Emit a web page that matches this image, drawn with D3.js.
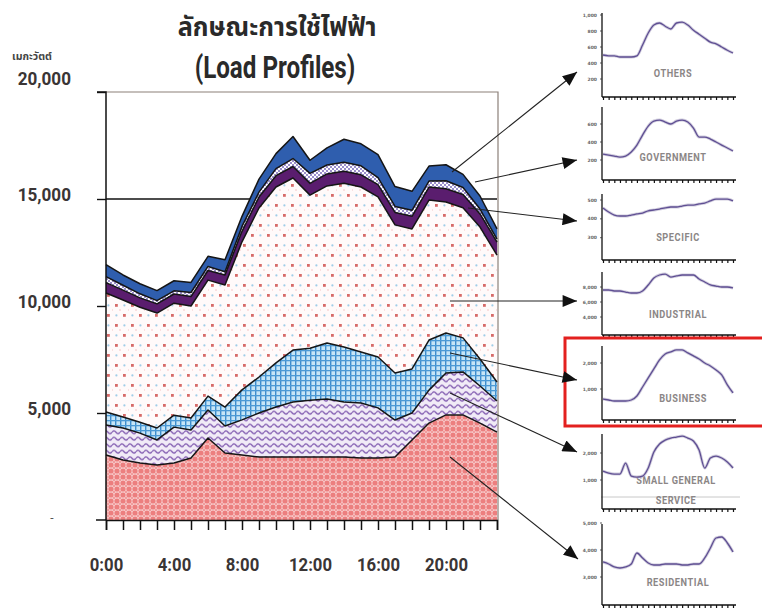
<!DOCTYPE html>
<html>
<head>
<meta charset="utf-8">
<script src="https://cdn.jsdelivr.net/npm/d3@7"></script>
<style>
  body { margin: 0; background: #fff; }
  svg { display: block; }
  .cond { font-family: 'Liberation Sans Narrow', 'Arial Narrow', 'Roboto', sans-serif; }
</style>
</head>
<body>
<svg id="chart" width="762" height="608"></svg>
<script>
// ---- data: hourly load (MW) by customer class, stacked bottom to top ----
const hours = d3.range(24);
const hourLabels = ["0:00", "4:00", "8:00", "12:00", "16:00", "20:00"];
const yTickValues = [0, 5000, 10000, 15000, 20000];

const residential  = [3040, 2800, 2660, 2570, 2660, 2900, 3830, 3130, 3040, 2940, 2940, 2940, 2940, 2940, 2940, 2900, 2900, 2940, 3740, 4530, 4910, 4910, 4530, 4110];
const smallGeneral = [1400, 1500, 1400, 1170, 1680, 1310, 1310, 1260, 1640, 2060, 2340, 2570, 2660, 2710, 2570, 2570, 2340, 1730, 1260, 1540, 1960, 2010, 1730, 1450];
const business     = [610, 510, 510, 560, 560, 560, 650, 890, 1400, 1680, 2060, 2430, 2430, 2620, 2570, 2380, 2380, 2200, 2060, 2340, 1870, 1590, 1260, 890];
const industrial   = [5560, 5470, 5370, 5370, 5230, 5230, 5420, 5700, 6920, 7900, 8220, 8040, 7150, 7340, 7660, 7710, 7480, 6920, 6540, 6540, 6120, 6080, 6170, 5930];
const specific     = [480, 460, 440, 430, 430, 440, 450, 470, 490, 510, 530, 540, 550, 560, 560, 570, 570, 580, 590, 610, 620, 620, 610, 600];
const government   = [280, 230, 190, 150, 150, 190, 190, 150, 230, 230, 330, 370, 470, 420, 420, 420, 330, 280, 280, 280, 370, 330, 230, 150];
const others       = [560, 480, 470, 470, 470, 470, 470, 560, 470, 610, 700, 1030, 610, 800, 1070, 1030, 1070, 930, 890, 700, 750, 610, 610, 470];

// ---- small per-class profiles shown on the right ----
const othersProfile      = [500, 490, 490, 475, 475, 475, 490, 625, 775, 875, 900, 860, 825, 900, 910, 875, 810, 760, 710, 660, 640, 600, 560, 525];
const governmentProfile  = [266, 255, 244, 233, 244, 289, 366, 477, 577, 633, 644, 622, 600, 633, 644, 622, 555, 455, 455, 433, 400, 366, 333, 300];
const specificProfile    = [458, 436, 420, 415, 415, 420, 426, 431, 442, 447, 452, 458, 463, 463, 468, 473, 473, 479, 484, 495, 505, 505, 505, 495];
const industrialProfile  = [7600, 7600, 7470, 7470, 7330, 7200, 7200, 7470, 8270, 9200, 9600, 9730, 9330, 9470, 9600, 9600, 9600, 9070, 8670, 8270, 8130, 8000, 8000, 7870];
const businessProfile    = [616, 577, 539, 539, 539, 577, 731, 1078, 1425, 1771, 2118, 2349, 2426, 2503, 2503, 2387, 2272, 2156, 2002, 1886, 1733, 1540, 1155, 847];
const smallGenProfile    = [1332, 1258, 1221, 1221, 1628, 1147, 1110, 1147, 1443, 2035, 2331, 2479, 2553, 2590, 2627, 2553, 2442, 2109, 1443, 1813, 1887, 1813, 1665, 1443];
const residentialProfile = [3556, 3482, 3371, 3334, 3371, 3482, 3889, 3704, 3519, 3445, 3445, 3482, 3482, 3482, 3445, 3445, 3482, 3482, 3704, 4074, 4444, 4481, 4259, 3926];

const seriesKeys = ["residential", "smallGeneral", "business", "industrial", "specific", "government", "others"];
const seriesData = { residential, smallGeneral, business, industrial, specific, government, others };
const table = hours.map(h => {
  const row = { hour: h };
  seriesKeys.forEach(k => row[k] = seriesData[k][h]);
  return row;
});

const svg = d3.select("#chart");
const defs = svg.append("defs");

// squeeze text horizontally to imitate a condensed face
function condense(sel, k) {
  sel.each(function () {
    const w = this.getComputedTextLength();
    d3.select(this).attr("textLength", w * k).attr("lengthAdjust", "spacingAndGlyphs");
  });
}

// ---- fill patterns ----
function pattern(id, w, h, bg) {
  const p = defs.append("pattern").attr("id", id).attr("patternUnits", "userSpaceOnUse")
    .attr("width", w).attr("height", h);
  p.append("rect").attr("width", w).attr("height", h).attr("fill", bg);
  return p;
}
// residential: pink scales
{
  const p = pattern("pResidential", 6, 6, "#fad6d6");
  p.append("circle").attr("cx", 3).attr("cy", 3).attr("r", 2.6).attr("fill", "#ec7f7f");
  [[0, 0], [6, 0], [0, 6], [6, 6]].forEach(c =>
    p.append("circle").attr("cx", c[0]).attr("cy", c[1]).attr("r", 1.3).attr("fill", "#f09c9c"));
}
// small general service: purple waves
{
  const p = pattern("pSmallGeneral", 8, 6.5, "#f1ebf7");
  p.append("path").attr("d", "M0,3.3 Q2,0.6 4,3.3 T8,3.3")
    .attr("fill", "none").attr("stroke", "#8560b3").attr("stroke-width", 1.4);
}
// business: blue plaid
{
  const p = pattern("pBusiness", 5, 5, "#c6e5f7");
  p.append("rect").attr("x", 0).attr("y", 0).attr("width", 1.4).attr("height", 5).attr("fill", "#3d8ccc");
  p.append("rect").attr("x", 0).attr("y", 0).attr("width", 5).attr("height", 1.3).attr("fill", "#4b9ad6");
}
// industrial: sparse red and blue dots
{
  const p = pattern("pIndustrial", 16, 20, "#fffafa");
  p.append("rect").attr("x", 3).attr("y", 4).attr("width", 2.8).attr("height", 2.8).attr("fill", "#d66a68");
  p.append("rect").attr("x", 11).attr("y", 14).attr("width", 2.8).attr("height", 2.8).attr("fill", "#d66a68");
  p.append("circle").attr("cx", 12.4).attr("cy", 5.4).attr("r", 1.1).attr("fill", "#9fcde8");
  p.append("circle").attr("cx", 4.4).attr("cy", 15.4).attr("r", 1.1).attr("fill", "#9fcde8");
  p.append("circle").attr("cx", 8).attr("cy", 10).attr("r", 0.7).attr("fill", "#efb3b3");
  p.append("circle").attr("cx", 0).attr("cy", 10).attr("r", 0.7).attr("fill", "#efb3b3");
}
// government: fine lavender checker
{
  const p = pattern("pGovernment", 4, 4, "#ffffff");
  p.append("rect").attr("x", 0).attr("y", 0).attr("width", 2).attr("height", 2).attr("fill", "#9a8ecb");
  p.append("rect").attr("x", 2).attr("y", 2).attr("width", 2).attr("height", 2).attr("fill", "#9a8ecb");
}
const fills = {
  residential: "url(#pResidential)",
  smallGeneral: "url(#pSmallGeneral)",
  business: "url(#pBusiness)",
  industrial: "url(#pIndustrial)",
  specific: "#5a1d6e",
  government: "url(#pGovernment)",
  others: "#2f5eae"
};

// arrowhead marker for the pointer lines
defs.append("marker").attr("id", "arrow").attr("markerUnits", "userSpaceOnUse")
  .attr("viewBox", "0 0 12 10").attr("refX", 12).attr("refY", 5)
  .attr("markerWidth", 15).attr("markerHeight", 12).attr("orient", "auto")
  .append("path").attr("d", "M0,0 L12,5 L0,10 Z").attr("fill", "#111");

// ---- main chart ----
const x = d3.scaleLinear().domain([0, 23]).range([106, 497]);
const y = d3.scaleLinear().domain([0, 20000]).range([520, 92]);

// frame
svg.append("path")
  .attr("d", `M${x(0)},${y(20000)} H${x(23) + 1} V${y(0)}`)
  .attr("fill", "none").attr("stroke", "#8c8079").attr("stroke-width", 1.2);

// 15,000 reference line behind the areas
svg.append("line")
  .attr("x1", x(0)).attr("x2", x(23)).attr("y1", y(15000)).attr("y2", y(15000))
  .attr("stroke", "#111").attr("stroke-width", 1.4);

const stack = d3.stack().keys(seriesKeys);
const layers = stack(table);

const area = d3.area().x(d => x(d.data.hour)).y0(d => y(d[0])).y1(d => y(d[1]));
const topLine = d3.line().x(d => x(d.data.hour)).y(d => y(d[1]));

svg.append("g").selectAll("path").data(layers).join("path")
  .attr("d", area).attr("fill", d => fills[d.key]);
svg.append("g").selectAll("path").data(layers).join("path")
  .attr("d", topLine).attr("fill", "none").attr("stroke", "#151515")
  .attr("stroke-width", 1.5).attr("stroke-linejoin", "round");

// axes
const yAxis = d3.axisLeft(y).tickValues(yTickValues.filter(v => v > 0))
  .tickSize(9).tickPadding(26).tickFormat(d3.format(","));
const gy = svg.append("g").attr("transform", `translate(${x(0)},0)`).call(yAxis);
gy.select(".domain").attr("d", `M-9,${y(20000)}H0V${y(0)}`).attr("stroke", "#111").attr("stroke-width", 1.5);
gy.selectAll(".tick line").attr("stroke", "#111").attr("stroke-width", 1.4);
gy.selectAll(".tick text").attr("class", "cond")
  .attr("dy", d => d === 20000 ? "-8px" : "1px")
  .attr("font-size", 19).attr("font-weight", "bold").attr("fill", "#3a3535")
  .call(condense, 0.9);
svg.append("text").attr("class", "cond").attr("x", 52).attr("y", y(0) + 2)
  .attr("text-anchor", "middle").attr("font-size", 12).attr("fill", "#555").text("-");
svg.append("line").attr("x1", 96).attr("x2", x(0)).attr("y1", y(0)).attr("y2", y(0))
  .attr("stroke", "#111").attr("stroke-width", 1.5);

const xAxis = d3.axisBottom(x).tickValues(hours).tickSize(10).tickPadding(28)
  .tickFormat(d => d % 4 === 0 ? hourLabels[d / 4] : "");
const gx = svg.append("g").attr("transform", `translate(0,${y(0)})`).call(xAxis);
gx.select(".domain").attr("stroke", "#111").attr("stroke-width", 1.5);
gx.selectAll(".tick line").attr("stroke", "#111").attr("stroke-width", 1.5);
gx.selectAll(".tick text").attr("class", "cond")
  .attr("font-size", 19).attr("font-weight", "bold").attr("fill", "#3a3535")
  .call(condense, 0.88);

// titles
svg.append("text").attr("x", 277).attr("y", 36).attr("text-anchor", "middle")
  .attr("font-family", "'Noto Sans Thai','Noto Sans','DejaVu Sans',sans-serif")
  .attr("font-size", 26).attr("font-weight", "bold").attr("fill", "#2a2a2a")
  .text("ลักษณะการใช้ไฟฟ้า")
  .call(condense, 0.97);
svg.append("text").attr("class", "cond").attr("x", 275).attr("y", 78).attr("text-anchor", "middle")
  .attr("font-size", 31).attr("font-weight", "bold").attr("fill", "#2a2a2a")
  .text("(Load Profiles)")
  .call(condense, 0.78);
svg.append("text").attr("x", 32).attr("y", 60).attr("text-anchor", "middle")
  .attr("font-family", "'Noto Sans Thai','Noto Sans','DejaVu Sans',sans-serif")
  .attr("font-size", 10.5).attr("font-weight", "bold").attr("fill", "#444")
  .text("เมกะวัตต์");

// ---- small profile panels ----
const panels = [
  { label: ["OTHERS"], values: othersProfile, top: 13, bottom: 97, domain: [0, 1000], range: [95, 15], ticks: [200, 400, 600, 800, 1000], lx: 673, ly: [77] },
  { label: ["GOVERNMENT"], values: governmentProfile, top: 107, bottom: 180, domain: [0, 600], range: [178, 124], ticks: [200, 400, 600], lx: 673, ly: [161] },
  { label: ["SPECIFIC"], values: specificProfile, top: 194, bottom: 260, domain: [300, 500], range: [237.7, 200], ticks: [300, 400, 500], lx: 678, ly: [241] },
  { label: ["INDUSTRIAL"], values: industrialProfile, top: 272, bottom: 335, domain: [4000, 8000], range: [317, 287], ticks: [4000, 6000, 8000], lx: 678, ly: [318] },
  { label: ["BUSINESS"], values: businessProfile, top: 346, bottom: 420, domain: [0, 2000], range: [415, 363], ticks: [1000, 2000], lx: 683, ly: [402] },
  { label: ["SMALL GENERAL", "SERVICE"], values: smallGenProfile, top: 434, bottom: 509, domain: [0, 2000], range: [507, 453], ticks: [1000, 2000], lx: 676, ly: [484, 504] },
  { label: ["RESIDENTIAL"], values: residentialProfile, top: 524, bottom: 605, domain: [3000, 5000], range: [577, 523], ticks: [3000, 4000, 5000], lx: 678, ly: [586] }
];
const px = d3.scaleLinear().domain([0, 23]).range([603, 733]);
panels.forEach((p, i) => {
  const g = svg.append("g");
  const py = d3.scaleLinear().domain(p.domain).range(p.range);
  if (i === 5) {
    g.append("line").attr("x1", 601).attr("x2", 740).attr("y1", 497).attr("y2", 497)
      .attr("stroke", "#c8c8c8").attr("stroke-width", 1);
  }
  p.label.forEach((t, j) => {
    g.append("text").attr("class", "cond").attr("x", p.lx).attr("y", p.ly[j])
      .attr("text-anchor", "middle").attr("font-size", 10).attr("font-weight", "bold")
      .attr("letter-spacing", 0.6).attr("fill", "#8b8686").text(t)
      .call(condense, 0.92);
  });
  const line = d3.line().x((d, h) => px(h)).y(d => py(d)).curve(d3.curveMonotoneX);
  g.append("path").datum(p.values).attr("d", line)
    .attr("fill", "none").attr("stroke", "#bcb6cf").attr("stroke-width", 3).attr("opacity", 0.7);
  g.append("path").datum(p.values).attr("d", line)
    .attr("fill", "none").attr("stroke", "#5f4f93").attr("stroke-width", 1.3);
  // axes
  g.append("line").attr("x1", 602).attr("x2", 602).attr("y1", p.top).attr("y2", p.bottom)
    .attr("stroke", "#111").attr("stroke-width", 1.3);
  const ax = d3.axisBottom(px).tickValues(hours).tickSize(3).tickFormat("");
  const gax = g.append("g").attr("transform", `translate(0,${p.bottom})`).call(ax);
  gax.select(".domain").attr("d", `M602,0H736`).attr("stroke", "#111").attr("stroke-width", 1.6);
  gax.selectAll(".tick line").attr("stroke", "#111").attr("stroke-width", 1.2);
  p.ticks.forEach(v => {
    g.append("line").attr("x1", 600).attr("x2", 602).attr("y1", py(v)).attr("y2", py(v))
      .attr("stroke", "#333").attr("stroke-width", 0.8);
    g.append("text").attr("x", 597).attr("y", py(v) + 1.5).attr("text-anchor", "end")
      .attr("font-family", "'DejaVu Sans',sans-serif").attr("font-size", 4.5).attr("font-weight", "bold")
      .attr("fill", "#666").text(d3.format(",")(v));
  });
});

// highlight around the business panel
svg.append("rect").attr("x", 565).attr("y", 338).attr("width", 205).attr("height", 88)
  .attr("fill", "none").attr("stroke", "#e3201f").attr("stroke-width", 3);

// ---- pointer lines from the stack to the panels ----
const pointers = [
  [452, 172, 577, 72],
  [475, 182, 577, 160],
  [468, 208, 577, 221],
  [450, 301, 577, 301],
  [450, 353, 577, 380],
  [450, 393, 577, 452],
  [450, 457, 578, 559]
];
svg.append("g").selectAll("line").data(pointers).join("line")
  .attr("x1", d => d[0]).attr("y1", d => d[1]).attr("x2", d => d[2]).attr("y2", d => d[3])
  .attr("stroke", "#222").attr("stroke-width", 1.1).attr("marker-end", "url(#arrow)");
</script>
</body>
</html>
